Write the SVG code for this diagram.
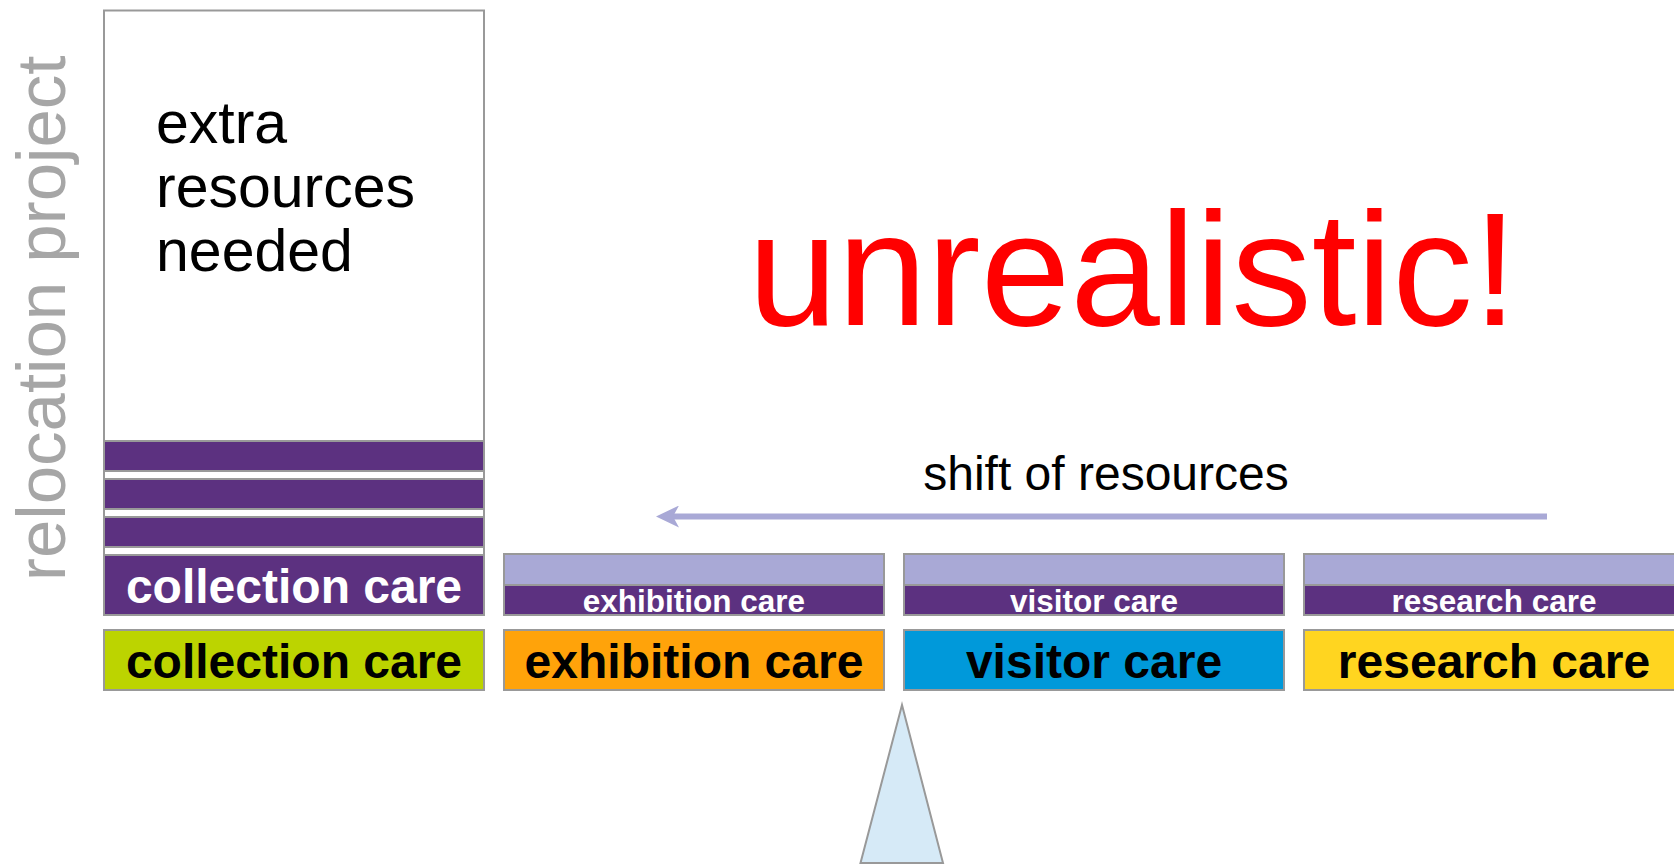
<svg xmlns="http://www.w3.org/2000/svg" width="1674" height="864" viewBox="0 0 1674 864">
<style>
  text { font-family: "Liberation Sans", Arial, sans-serif; }
  .box { stroke: #999999; stroke-width: 2; }
  .white { fill: #ffffff; }
  .purple { fill: #5c3180; }
  .lilac { fill: #a9a9d6; }
  .big { font-size: 48px; font-weight: bold; text-anchor: middle; fill: #000000; }
  .bigw { font-size: 48px; font-weight: bold; text-anchor: middle; fill: #ffffff; }
  .small { font-size: 31.5px; font-weight: bold; text-anchor: middle; fill: #ffffff; }
</style>
<defs>
  <marker id="head" markerUnits="userSpaceOnUse" viewBox="0 0 23 22" markerWidth="23" markerHeight="22" refX="6" refY="11" orient="auto">
    <path d="M0,0 L23,11 L0,22 L6,11 Z" fill="#a9a9d6"/>
  </marker>
</defs>
<rect x="0" y="0" width="1674" height="864" fill="#ffffff"/>

<text id="relocation-label" transform="translate(64.5,581) rotate(-90)" x="0" y="0" font-size="69" fill="#a6a6a6">relocation project</text>

<g id="collection">
  <rect class="box white" x="104" y="10.5" width="380" height="604.5"/>
  <text x="156" y="143" font-size="59" fill="#000000">extra</text>
  <text x="156" y="207" font-size="59" fill="#000000">resources</text>
  <text x="156" y="271" font-size="59" fill="#000000">needed</text>
  <rect class="box purple" x="104" y="441" width="380" height="30"/>
  <rect class="box purple" x="104" y="479" width="380" height="30"/>
  <rect class="box purple" x="104" y="517" width="380" height="30"/>
  <rect class="box purple" x="104" y="555" width="380" height="60"/>
  <text class="bigw" x="294" y="603">collection care</text>
  <rect class="box" x="104" y="630" width="380" height="60" fill="#bcd400"/>
  <text class="big" x="294" y="678">collection care</text>
</g>

<g id="exhibition">
  <rect class="box lilac" x="504" y="554" width="380" height="31"/>
  <rect class="box purple" x="504" y="585" width="380" height="30"/>
  <text class="small" x="694" y="612">exhibition care</text>
  <rect class="box" x="504" y="630" width="380" height="60" fill="#ffa30a"/>
  <text class="big" x="694" y="678">exhibition care</text>
</g>

<g id="visitor">
  <rect class="box lilac" x="904" y="554" width="380" height="31"/>
  <rect class="box purple" x="904" y="585" width="380" height="30"/>
  <text class="small" x="1094" y="612">visitor care</text>
  <rect class="box" x="904" y="630" width="380" height="60" fill="#0099da"/>
  <text class="big" x="1094" y="678">visitor care</text>
</g>

<g id="research">
  <rect class="box lilac" x="1304" y="554" width="380" height="31"/>
  <rect class="box purple" x="1304" y="585" width="380" height="30"/>
  <text class="small" x="1494" y="612">research care</text>
  <rect class="box" x="1304" y="630" width="380" height="60" fill="#ffd520"/>
  <text class="big" x="1494" y="678">research care</text>
</g>

<g id="fulcrum">
  <polygon points="902,705 860.5,863 943,863" fill="#d6eaf7" stroke="#999999" stroke-width="2"/>
</g>

<text id="unrealistic" x="748" y="325" font-size="161" fill="#ff0000">unrealistic!</text>

<g id="connectors">
  <path d="M1547,516.5 L673,516.5" stroke="#a9a9d6" stroke-width="6" fill="none" marker-end="url(#head)"/>
  <text x="1106" y="490" font-size="48" text-anchor="middle" fill="#000000">shift of resources</text>
</g>
</svg>
